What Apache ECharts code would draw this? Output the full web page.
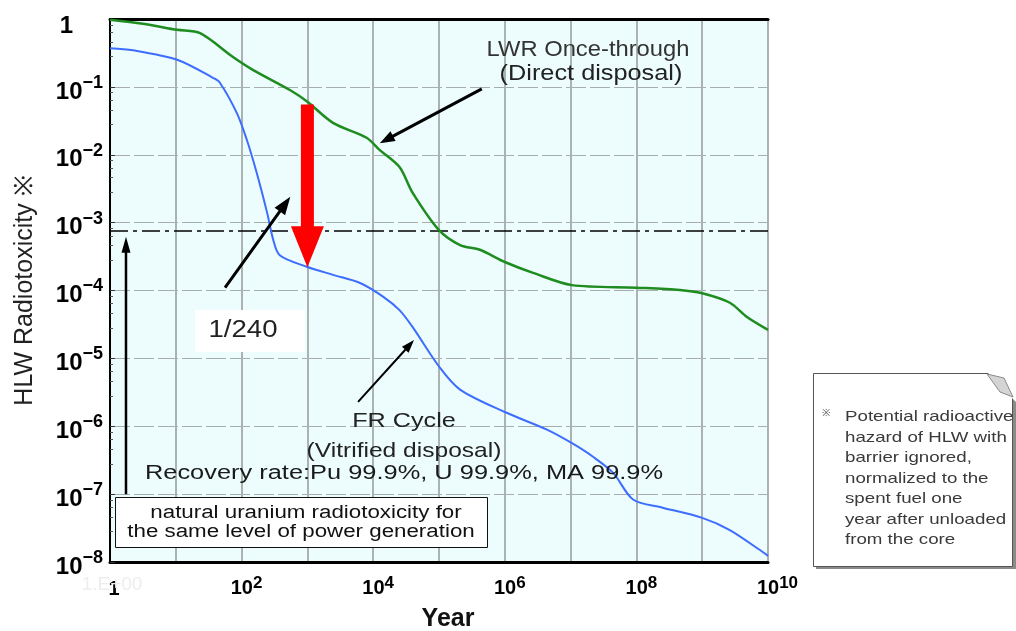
<!DOCTYPE html>
<html><head><meta charset="utf-8">
<script src="https://cdn.jsdelivr.net/npm/echarts@6/dist/echarts.min.js"></script>
<style>html,body{margin:0;padding:0;background:#fff}#c{width:1016px;height:631px}</style>
</head><body><div id="c"></div>
<script>
// ---- data ----
const lwrYears = [1, 3.16, 10.5, 23.4, 74, 148, 550, 1000, 2450, 7940, 12600, 25100, 39800, 1e5, 2.09e5, 4.17e5, 1e6, 2.69e6, 1.05e7, 1e8, 4.57e8, 1e9, 2.63e9, 4.79e9, 1e10];
const lwrTox = [0.977, 0.851, 0.692, 0.617, 0.275, 0.178, 0.0891, 0.0603, 0.0295, 0.0178, 0.0117, 0.0066, 0.00275, 7.76e-4, 4.68e-4, 3.98e-4, 2.63e-4, 1.82e-4, 1.2e-4, 1.1e-4, 1.02e-4, 9.1e-5, 6.6e-5, 4.07e-5, 2.63e-5];
const frYears = [1, 2.24, 10.5, 37.2, 46.8, 85.1, 120, 170, 245, 302, 380, 977, 2450, 6310, 14100, 25100, 39800, 1e5, 2.09e5, 1e6, 4.37e6, 1.05e7, 2.19e7, 4.47e7, 8.91e7, 2.51e8, 1e9, 2.63e9, 8.51e9, 1e10];
const frTox = [0.372, 0.347, 0.251, 0.135, 0.115, 0.0407, 0.0166, 0.00537, 0.00138, 5.62e-4, 3.31e-4, 2.24e-4, 1.7e-4, 1.29e-4, 8.13e-5, 5.13e-5, 2.88e-5, 7.59e-6, 3.47e-6, 1.62e-6, 8.91e-7, 5.62e-7, 3.55e-7, 2.04e-7, 8.32e-8, 6.31e-8, 4.47e-8, 2.95e-8, 1.38e-8, 1.23e-8];
const naturalUraniumLevel = 7.55e-4;
const yearRange = [1, 1e10];
const xTickExponents = [0, 2, 4, 6, 8, 10];      // labelled x ticks (10^n)
const yTickExponents = [0, -1, -2, -3, -4, -5, -6, -7, -8];
// annotation arrows in data coordinates: [yearFrom, toxFrom, yearTo, toxTo]
const arrowLines = [
  [1000, 0.055, 1000, 2.2e-4],        // red reduction arrow
  [56, 1.1e-4, 550, 2.4e-3],          // 1/240 pointer
  [4.47e5, 0.0933, 1.26e4, 0.0148],   // LWR label pointer
  [5890, 2.29e-6, 4.17e4, 1.86e-5],   // FR label pointer
  [1.75, 1e-7, 1.75, 6.2e-4]          // natural uranium pointer
];
// ---- styles ----
const arrowStyles = [
  {color: '#ff0000', shaft: 13, head: 41, headW: 33},
  {color: '#000', shaft: 3, head: 18, headW: 13},
  {color: '#000', shaft: 3, head: 15, headW: 11},
  {color: '#000', shaft: 2, head: 13, headW: 9},
  {color: '#000', shaft: 2.5, head: 16, headW: 9}
];

function pairs(xs, ys) { return xs.map((x, i) => [x, ys[i]]); }

function renderArrow(params, api) {
  const a = api.coord([api.value(0), api.value(1)]);
  const b = api.coord([api.value(2), api.value(3)]);
  const st = arrowStyles[params.dataIndex];
  const dx = b[0] - a[0], dy = b[1] - a[1];
  const L = Math.hypot(dx, dy);
  const ux = dx / L, uy = dy / L, nx = -uy, ny = ux;
  const hb = [b[0] - ux * st.head, b[1] - uy * st.head];
  const sw = st.shaft / 2, hw = st.headW / 2;
  const pts = [
    [a[0] + nx * sw, a[1] + ny * sw],
    [hb[0] + nx * sw, hb[1] + ny * sw],
    [hb[0] + nx * hw, hb[1] + ny * hw],
    [b[0], b[1]],
    [hb[0] - nx * hw, hb[1] - ny * hw],
    [hb[0] - nx * sw, hb[1] - ny * sw],
    [a[0] - nx * sw, a[1] - ny * sw]
  ];
  return {type: 'polygon', shape: {points: pts}, style: {fill: st.color}};
}

const FONT = 'Liberation Sans, Arial, sans-serif';
function txt(x, y, s, size, sx, opts) {
  opts = opts || {};
  return {
    type: 'text', x: x, y: y, scaleX: sx, z: 100,
    style: {
      text: s, fontSize: size, fontFamily: FONT, fontWeight: opts.weight || 'normal',
      fill: opts.fill || '#1a1a1a',
      textAlign: opts.align || 'center', textVerticalAlign: 'middle',
      align: opts.align || 'center', verticalAlign: 'middle'
    }
  };
}

const noteLines = ['Potential radioactive', 'hazard of HLW with', 'barrier ignored,', 'normalized to the', 'spent fuel one', 'year after unloaded', 'from the core'];

const chart = echarts.init(document.getElementById('c'), null, {renderer: 'canvas'});
const expOf = v => Math.round(Math.log10(v));

chart.setOption({
  animation: false,
  backgroundColor: '#ffffff',
  grid: {left: 110, top: 19, width: 658, height: 543, show: true, backgroundColor: '#edfdfd', borderWidth: 0,
         containLabel: false, outerBoundsMode: 'none'},
  xAxis: [{
    type: 'log', logBase: 10, min: 1, max: 1e10, interval: 1, splitNumber: 10,
    name: 'Year', nameLocation: 'middle', nameGap: 45,
    nameTextStyle: {fontSize: 25, fontWeight: 'bold', color: '#111', fontFamily: FONT, padding: [0, 0, 0, 18]},
    axisLine: {show: true, lineStyle: {color: '#000', width: 3}},
    axisTick: {show: false},
    splitLine: {show: true, lineStyle: {color: '#aab2b2', width: 2}},
    axisLabel: {
      margin: 16,
      formatter: v => {
        const e = expOf(v);
        if (!xTickExponents.includes(e)) return '';
        if (e === 0) return '{one|1}';
        const s = String(e);
        return '{p' + s.length + '| }{b|10}{s|' + s + '}';
      },
      rich: {
        one: {fontSize: 20, fontWeight: 'bold', fontFamily: FONT, color: '#000', lineHeight: 20, padding: [3, 0, 0, 8]},
        p1: {width: 10, fontSize: 17},
        p2: {width: 19, fontSize: 17},
        b: {fontSize: 20, fontWeight: 'bold', fontFamily: FONT, color: '#000', lineHeight: 20, verticalAlign: 'bottom'},
        s: {fontSize: 17, fontWeight: 'bold', fontFamily: FONT, color: '#000', lineHeight: 17, padding: [0, 0, 6, 0], verticalAlign: 'bottom'}
      }
    }
  }, {
    type: 'log', logBase: 10, min: 1, max: 1e10, position: 'top',
    axisLine: {show: true, lineStyle: {color: '#000', width: 3}},
    axisTick: {show: false}, axisLabel: {show: false}, splitLine: {show: false}
  }],
  yAxis: {
    type: 'log', logBase: 10, min: 1e-8, max: 1, interval: 1, splitNumber: 8,
    name: 'HLW Radiotoxicity ※', nameLocation: 'middle', nameGap: 72,
    nameTextStyle: {fontSize: 25, color: '#222', fontFamily: FONT},
    axisLine: {show: true, lineStyle: {color: '#000', width: 2}},
    axisTick: {show: true, inside: true, length: 5, lineStyle: {color: '#333'}},
    minorTick: {show: true, splitNumber: 5, length: 3, lineStyle: {color: '#555'}},
    splitLine: {show: true, lineStyle: {color: '#a6aeae', width: 1, type: [20, 4]}},
    axisLabel: {
      margin: 7,
      padding: [10, 0, 0, 0],
      formatter: v => {
        const e = expOf(v);
        if (!yTickExponents.includes(e)) return '';
        if (e === 0) return '{one|1}';
        return '{b|10}{s|\u2212' + (-e) + '}';
      },
      rich: {
        one: {fontSize: 24, fontWeight: 'bold', fontFamily: FONT, color: '#000', lineHeight: 24, padding: [4, 30, 0, 0]},
        b: {fontSize: 24, fontWeight: 'bold', fontFamily: FONT, color: '#000', lineHeight: 24, verticalAlign: 'bottom'},
        s: {fontSize: 18, fontWeight: 'bold', fontFamily: FONT, color: '#000', lineHeight: 18, padding: [0, 0, 12, 0], verticalAlign: 'bottom'}
      }
    }
  },
  series: [
    {
      name: 'natural uranium', type: 'line',
      data: [[yearRange[0], naturalUraniumLevel], [yearRange[1], naturalUraniumLevel]],
      showSymbol: false, lineStyle: {color: '#000', width: 1.5, type: [18, 5, 4, 5]}, z: 2, silent: true
    },
    {
      name: 'LWR Once-through', type: 'line', data: pairs(lwrYears, lwrTox),
      showSymbol: false, smooth: 0.3, lineStyle: {color: '#1f8c1f', width: 2.5}, z: 3
    },
    {
      name: 'FR Cycle', type: 'line', data: pairs(frYears, frTox),
      showSymbol: false, smooth: 0.3, lineStyle: {color: '#3d6dff', width: 2}, z: 3
    },
    {
      type: 'custom', coordinateSystem: 'cartesian2d', renderItem: renderArrow,
      data: arrowLines, encode: {x: [0, 2], y: [1, 3]}, z: 6, silent: true, clip: false
    }
  ],
  graphic: [
    // faint ghost label
    txt(112, 585, '1.E+00', 19, 1, {fill: '#ededed'}),
    // 1/240 box
    {type: 'rect', z: 99, shape: {x: 195, y: 310, width: 110, height: 42}, style: {fill: '#ffffff'}},
    txt(243, 331, '1/240', 23, 1.2, {fill: '#222'}),
    // LWR label
    txt(588, 50, 'LWR Once-through', 22, 1.08, {fill: '#333'}),
    txt(591, 74, '(Direct disposal)', 22, 1.15, {fill: '#222'}),
    // FR labels
    txt(404, 421, 'FR Cycle', 21, 1.2, {fill: '#222'}),
    txt(404, 451, '(Vitrified disposal)', 21, 1.17, {fill: '#222'}),
    txt(404, 473, 'Recovery rate:Pu 99.9%, U 99.9%, MA 99.9%', 20, 1.27, {fill: '#1a1a1a'}),
    // natural uranium box
    {type: 'rect', z: 99, shape: {x: 115.5, y: 497.5, width: 372, height: 50}, style: {fill: '#ffffff', stroke: '#111', lineWidth: 1}},
    txt(306, 513, 'natural uranium radiotoxicity for', 18, 1.24, {fill: '#111'}),
    txt(301, 532, 'the same level of power generation', 18, 1.24, {fill: '#111'}),
    // note box
    {type: 'rect', z: 97, shape: {x: 816, y: 376, width: 200, height: 193}, style: {fill: '#8a8a8a'}},
    {type: 'rect', z: 98, shape: {x: 813.5, y: 373.5, width: 199, height: 193}, style: {fill: '#ffffff', stroke: '#555', lineWidth: 1}},
    {type: 'polygon', z: 99, shape: {points: [[987, 372], [1016, 372], [1016, 402], [1012, 398]]}, style: {fill: '#ffffff'}},
    {type: 'polygon', z: 99, shape: {points: [[987, 374], [1004, 378], [1013, 397], [1000, 392]]}, style: {fill: '#d4d4d4', stroke: '#8a8a8a', lineWidth: 1}},
    txt(826, 413, '※', 10, 1, {fill: '#555'}),
  ].concat(noteLines.map((s, i) => txt(845, 417 + i * 20.5, s, 14.5, 1.29, {fill: '#3a3a3a', align: 'left'})))
});
</script></body></html>
